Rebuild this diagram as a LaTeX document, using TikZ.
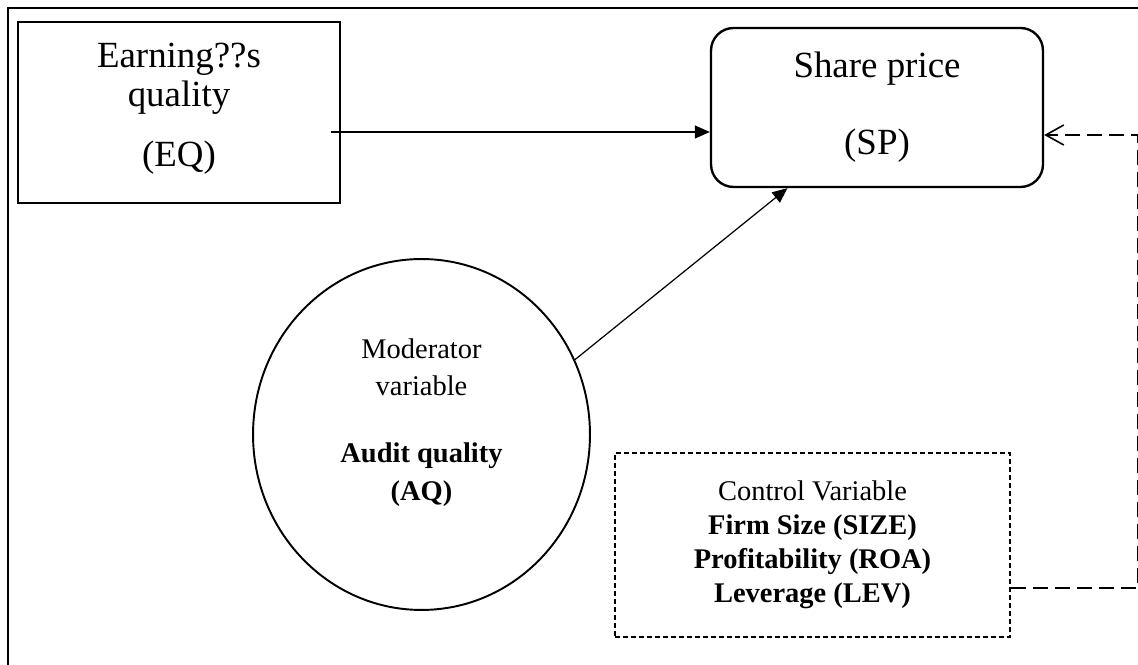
\documentclass[tikz,border=0pt]{standalone}
\usepackage{fontspec}
\setmainfont{Liberation Serif}
\usepackage{xcolor}
\usepackage{tikz}
\usetikzlibrary{positioning,arrows.meta,shapes.geometric,calc}
\definecolor{cmInk}{HTML}{000000}
\definecolor{cmWhite}{HTML}{FFFFFF}
\tikzset{
  cm-box/.style={
    draw=cmInk, line width=1.5pt, fill=cmWhite, align=center,
    inner sep=0pt, font=\fontsize{21}{22.2}\selectfont
  },
  cm-round/.style={cm-box, line width=1.35pt, rounded corners=0.45cm},
  cm-circle/.style={cm-box, ellipse, line width=1.1pt,
    font=\fontsize{16.2}{21.5}\selectfont},
  cm-dash/.style={cm-box, line width=1.4pt, dash pattern=on 0.1cm off 0.06cm,
    font=\fontsize{16.2}{19.4}\selectfont},
  cm-flow/.style={-{Triangle[length=0.3cm,width=0.26cm]}, line width=0.7pt,
    draw=cmInk},
  cm-flow-d/.style={-{Straight Barb[length=0.36cm,width=0.4cm]},
    line width=0.9pt, draw=cmInk, dash pattern=on 0.3cm off 0.14cm},
  cm-frame/.style={draw=cmInk, line width=1.1pt}
}
\begin{document}
\begin{tikzpicture}[x=0.02cm,y=0.02cm]
\useasboundingbox (0,0) rectangle (1138,665);
\draw[cm-frame] (8,0) -- (8,657) -- (1138,657);

\node[cm-box, minimum width=6.44cm, minimum height=3.62cm,
  text depth=0.3cm] (eq) at (179,552.5)
  {Earning??s\\ quality\\[11.9pt] (EQ)};
\node[cm-round, minimum width=6.64cm, minimum height=3.18cm] (sp) at (877,557.5)
  {Share price\\[21.6pt] (SP)};
\node[cm-circle, minimum width=6.74cm, minimum height=7.02cm,
  text depth=0.6cm] (aq) at (421.5,230.5)
  {Moderator\\ variable\\[16.6pt] \textbf{Audit quality}\\ \textbf{(AQ)}};
\node[cm-dash, minimum width=7.9cm, minimum height=3.68cm] (cv) at (812.5,120)
  {Control Variable\\ \textbf{Firm Size (SIZE)}\\
  \textbf{Profitability (ROA)}\\ \textbf{Leverage (LEV)}};

\draw[cm-flow] ([shift={(-10,-19.5)}]eq.east) -- ([shift={(0,-24.5)}]sp.west);
\draw[cm-flow] (aq.26) -- (sp.222);
\draw[cm-flow-d] ([shift={(0,-43)}]cv.east) -- ++(127,0)
  |- ([shift={(0,-27.5)}]sp.east);
\end{tikzpicture}
\end{document}
